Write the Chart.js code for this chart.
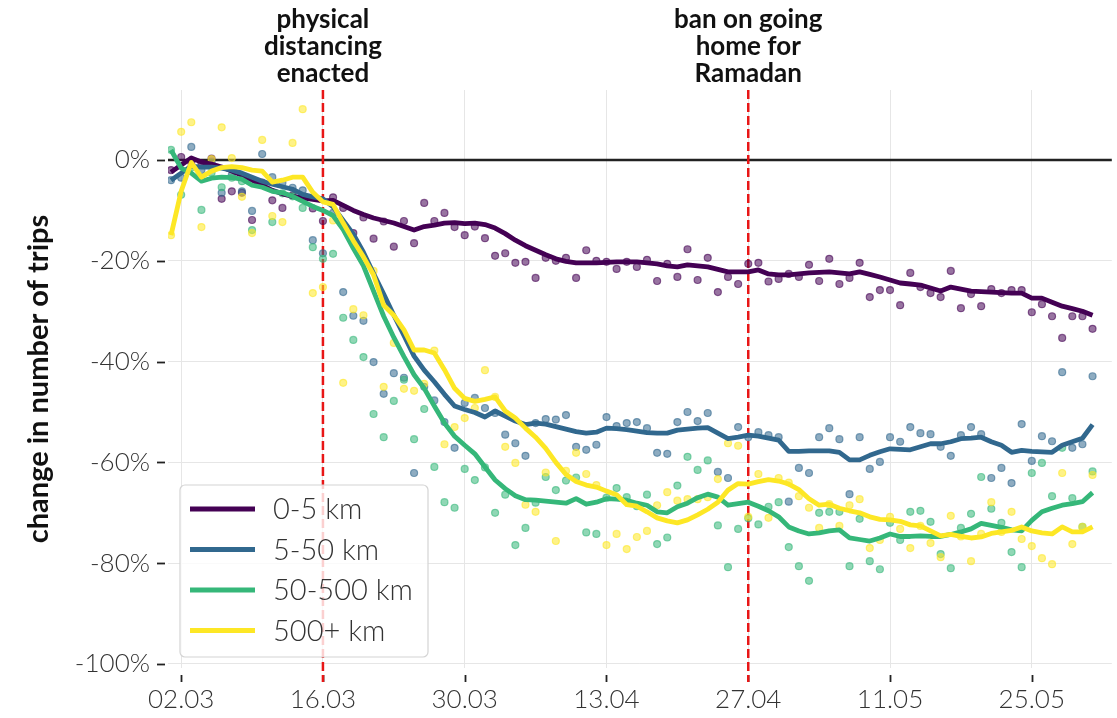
<!DOCTYPE html>
<html>
<head>
<meta charset="utf-8">
<script src="https://cdn.jsdelivr.net/npm/chart.js@4.4.1/dist/chart.umd.min.js"></script>
<style>
  html, body { margin: 0; padding: 0; background: #fff; }
  #wrap { width: 1117px; height: 718px; }
</style>
</head>
<body>
<div id="wrap"><canvas id="tripsChart" width="1117" height="718"></canvas></div>
<script>
// x = days since 01.03 (0 = 01.03, 91 = 31.05)
const tickDays = [1, 15, 29, 43, 57, 71, 85];
const tickLabels = ['02.03', '16.03', '30.03', '13.04', '27.04', '11.05', '25.05'];
const yTicks = [0, -20, -40, -60, -80, -100];
const eventDays = [15, 57];
const eventLabels = [['physical', 'distancing', 'enacted'], ['ban on going', 'home for', 'Ramadan']];
const seriesNames = ['0-5 km', '5-50 km', '50-500 km', '500+ km'];
const seriesColors = ['68, 1, 84', '49, 104, 142', '53, 183, 121', '253, 231, 37'];

// rolling mean lines (% change)
const avg05 = [-2.4, -1.0, 0.4, -0.4, -0.8, -1.4, -2.2, -3.0, -4.0, -5.0,
  -6.0, -6.7, -7.2, -7.5, -7.8, -8.1, -8.0, -9.0, -10.0, -10.8,
  -11.5, -12.0, -12.5, -13.2, -13.9, -13.2, -12.9, -12.5, -12.4, -12.6,
  -12.5, -12.8, -13.5, -14.6, -15.9, -17.0, -17.9, -18.8, -19.6, -20.1,
  -20.4, -20.4, -20.4, -20.3, -20.2, -20.2, -20.2, -20.4, -20.6, -21.0,
  -21.2, -20.8, -21.0, -21.2, -21.7, -22.2, -22.2, -22.2, -21.8, -22.6,
  -22.8, -22.8, -22.6, -22.4, -22.3, -22.2, -22.4, -22.6, -22.2, -22.7,
  -23.2, -23.8, -24.4, -24.6, -24.8, -25.4, -26.0, -25.2, -25.6, -26.0,
  -26.1, -26.2, -26.3, -26.4, -26.4, -27.4, -27.4, -28.2, -29.0, -29.5,
  -30.0, -30.8];
const avg550 = [-4.0, -2.6, -1.2, -1.4, -1.4, -1.6, -2.0, -2.6, -3.4, -4.2,
  -4.8, -5.3, -5.8, -6.8, -7.3, -7.7, -9.3, -12.0, -14.7, -18.3,
  -22.5, -26.6, -30.8, -34.8, -38.9, -41.7, -44.0, -46.5, -48.8, -49.5,
  -50.1, -51.0, -49.8, -50.8, -51.8, -52.5, -52.2, -52.4, -52.9, -53.4,
  -53.9, -54.2, -54.0, -53.2, -53.3, -53.5, -53.8, -54.1, -54.2, -54.2,
  -53.6, -53.4, -53.2, -53.1, -54.2, -55.3, -55.0, -54.6, -54.8, -55.2,
  -55.6, -57.8, -57.8, -57.7, -57.7, -57.7, -58.0, -59.5, -59.5, -58.6,
  -57.9, -57.3, -57.4, -57.5, -56.9, -56.3, -56.3, -55.9, -55.3, -55.2,
  -55.0, -55.9, -56.6, -58.0, -57.6, -57.8, -57.9, -58.0, -56.6, -55.9,
  -55.2, -52.5];
const avg50500 = [2.0, -1.6, -2.6, -4.2, -3.6, -3.4, -3.5, -3.8, -5.0, -5.4,
  -6.2, -6.5, -7.2, -8.2, -9.2, -10.0, -11.0, -13.8, -17.5, -21.0,
  -26.0, -31.0, -35.2, -39.0, -42.6, -45.3, -48.8, -52.2, -54.8, -56.6,
  -58.3, -60.9, -63.5, -65.2, -66.6, -67.4, -67.5, -67.7, -67.9, -68.1,
  -67.2, -68.3, -67.9, -67.2, -67.3, -67.5, -68.1, -68.5, -69.8, -70.0,
  -68.8, -68.1, -67.0, -66.3, -66.9, -68.5, -68.2, -67.9, -68.7, -69.6,
  -70.8, -72.8, -73.6, -74.2, -74.0, -73.6, -73.4, -75.0, -75.3, -75.6,
  -75.0, -74.2, -74.7, -74.7, -74.6, -74.7, -74.7, -74.3, -73.8, -73.2,
  -72.1, -72.5, -72.9, -73.4, -73.6, -71.5, -69.8, -69.1, -68.5, -68.2,
  -67.8, -66.0];
const avg500 = [-14.9, -6.2, -0.5, -3.4, -2.2, -1.5, -1.3, -1.5, -2.0, -2.2,
  -4.4, -4.0, -3.4, -3.4, -6.4, -8.3, -8.8, -12.5, -16.0, -19.2,
  -22.8, -28.8, -30.8, -33.7, -37.7, -37.7, -38.3, -41.6, -45.3, -47.3,
  -47.9, -47.5, -47.0, -49.8, -51.2, -53.2, -55.0, -57.2, -60.0, -62.4,
  -63.8, -64.5, -64.9, -65.7, -66.4, -68.4, -68.7, -69.8, -71.0, -71.6,
  -72.0, -71.4, -70.4, -69.3, -67.9, -65.5, -64.2, -64.3, -63.8, -63.4,
  -63.7, -64.3, -65.4, -67.2, -68.5, -68.3, -69.1, -69.6, -70.0, -70.8,
  -71.3, -71.4, -71.7, -72.4, -72.6, -73.6, -74.6, -74.3, -74.7, -75.0,
  -74.8, -74.1, -73.8, -73.5, -72.8, -73.6, -74.0, -74.2, -72.8, -73.8,
  -73.8, -72.8];

// daily values (dots)
const day05 = [-2.0, 0.6, -0.5, -0.6, 0.3, -7.7, -6.2, -6.5, -11.9, -4.5,
  -8.0, -9.5, -7.0, -7.6, -9.6, -12.1, -7.4, -9.5, -14.5, -11.4,
  -15.6, -12.2, -17.2, -12.1, -16.5, -8.5, -12.1, -10.5, -13.3, -14.9,
  -13.2, -15.5, -19.0, -18.5, -20.4, -20.2, -23.4, -19.4, -20.0, -19.4,
  -23.4, -17.9, -20.0, -20.2, -21.6, -20.2, -21.2, -19.8, -24.0, -20.6,
  -23.2, -17.7, -23.8, -19.4, -26.2, -23.2, -24.6, -20.6, -20.4, -24.1,
  -23.6, -22.6, -23.2, -20.8, -24.0, -19.6, -24.6, -23.4, -20.4, -27.2,
  -25.8, -25.8, -28.8, -22.4, -25.2, -26.4, -27.2, -22.0, -29.4, -26.6,
  -29.0, -25.6, -26.4, -25.8, -25.8, -30.2, -28.6, -31.0, -35.3, -31.0,
  -31.0, -33.5];
const day550 = [-4.0, -3.5, 2.6, -2.0, -0.5, -6.5, -3.0, -6.2, -10.1, 1.2,
  -3.4, -4.5, -5.5, -6.0, -15.9, -18.5, -10.5, -26.2, -30.9, -31.9,
  -40.1, -46.4, -42.3, -43.2, -62.1, -45.0, -47.7, -52.0, -57.1, -48.2,
  -47.2, -49.2, -50.2, -54.5, -56.2, -58.7, -52.2, -51.4, -51.5, -50.6,
  -56.9, -57.5, -56.5, -51.0, -52.8, -52.2, -52.0, -53.2, -58.1, -58.3,
  -52.0, -50.0, -51.8, -50.2, -61.9, -63.1, -53.0, -55.0, -54.0, -54.6,
  -55.0, -67.8, -61.1, -62.1, -55.0, -53.2, -55.4, -66.3, -55.0, -61.3,
  -59.9, -55.0, -55.9, -53.0, -54.2, -54.4, -56.9, -58.7, -54.6, -53.0,
  -54.4, -63.1, -61.1, -64.1, -52.4, -59.7, -54.8, -55.8, -42.1, -57.1,
  -56.4, -42.9];
const day50500 = [2.0, -6.9, -1.5, -9.9, -2.5, -5.4, -3.5, -4.2, -13.9, -4.6,
  -12.3, -6.6, -7.2, -9.5, -17.3, -19.6, -18.6, -31.3, -35.7, -39.1,
  -50.4, -55.0, -47.8, -43.6, -55.4, -49.4, -60.9, -67.9, -69.0, -61.3,
  -63.5, -61.0, -70.0, -66.4, -76.4, -73.0, -68.0, -62.9, -65.5, -63.6,
  -63.0, -73.9, -74.2, -67.0, -65.1, -66.9, -68.7, -66.4, -76.2, -74.9,
  -64.6, -58.9, -61.5, -59.6, -72.5, -80.8, -73.2, -71.1, -72.3, -68.8,
  -67.9, -76.8, -80.6, -83.5, -70.0, -69.8, -69.8, -80.6, -71.2, -79.6,
  -81.2, -72.0, -75.4, -69.8, -69.6, -71.8, -78.2, -81.0, -73.0, -70.2,
  -62.9, -69.2, -72.0, -77.8, -80.8, -62.1, -60.1, -66.7, -57.1, -67.1,
  -72.8, -61.8];
const day500 = [-14.9, 5.6, 7.5, -13.3, 0.2, 6.5, 0.4, -7.3, -14.5, 4.0,
  -11.1, -12.3, 3.4, 10.1, -26.4, -25.2, -12.0, -44.2, -29.6, -30.8,
  -22.0, -45.0, -36.3, -45.4, -45.8, -44.4, -37.8, -56.4, -53.0, -51.2,
  -49.2, -41.7, -47.0, -56.9, -60.1, -68.4, -69.8, -62.0, -75.6, -61.7,
  -58.1, -62.3, -64.5, -76.4, -74.2, -77.2, -74.8, -73.6, -68.5, -65.9,
  -67.6, -67.3, -67.3, -66.9, -63.3, -56.2, -56.7, -70.8, -62.3, -71.0,
  -63.1, -64.0, -66.7, -69.0, -73.0, -68.3, -72.6, -68.5, -67.3, -77.0,
  -75.4, -70.8, -73.2, -77.0, -72.6, -76.0, -78.8, -70.6, -74.7, -79.6,
  -74.2, -67.9, -73.8, -69.8, -75.2, -76.6, -79.0, -80.2, -62.1, -76.2,
  -72.8, -62.5];

const avgs = [avg05, avg550, avg50500, avg500];
const dailies = [day05, day550, day50500, day500];

function toPoints(arr) {
    return arr.map((v, i) => ({ x: i, y: v }));
}

// garis rata-rata (di atas titik)
const lineSets = seriesNames.map((name, k) => ({
    type: 'line',
    label: name,
    data: toPoints(avgs[k]),
    borderColor: 'rgb(' + seriesColors[k] + ')',
    borderWidth: 4.8,
    borderJoinStyle: 'round',
    pointRadius: 0,
    tension: 0,
    order: 3 - k
}));

// titik harian
const dotSets = seriesNames.map((name, k) => ({
    type: 'scatter',
    label: name + ' (daily)',
    data: toPoints(dailies[k]),
    backgroundColor: 'rgba(' + seriesColors[k] + ', 0.55)',
    borderColor: 'rgba(' + seriesColors[k] + ', 0.6)',
    borderWidth: 1.2,
    pointRadius: 3.5,
    order: 10 - k
}));

const decorations = {
    id: 'decorations',
    beforeDatasetsDraw(chart) {
        const { ctx, chartArea, scales: { x, y } } = chart;
        ctx.save();
        // tick marks, offset from the plot
        ctx.strokeStyle = '#222';
        ctx.lineWidth = 1.8;
        tickDays.forEach(d => {
            const px = Math.round(x.getPixelForValue(d)) + 0.5;
            ctx.beginPath();
            ctx.moveTo(px, chartArea.bottom + 7);
            ctx.lineTo(px, chartArea.bottom + 14);
            ctx.stroke();
        });
        yTicks.forEach(v => {
            const py = Math.round(y.getPixelForValue(v)) + 0.5;
            ctx.beginPath();
            ctx.moveTo(chartArea.left - 11, py);
            ctx.lineTo(chartArea.left - 3, py);
            ctx.stroke();
        });
        // zero line
        const y0 = y.getPixelForValue(0);
        ctx.strokeStyle = '#222';
        ctx.lineWidth = 2.4;
        ctx.beginPath();
        ctx.moveTo(chartArea.left, y0);
        ctx.lineTo(chartArea.right, y0);
        ctx.stroke();
        // event lines
        ctx.strokeStyle = 'rgb(232, 22, 22)';
        ctx.lineWidth = 2.5;
        ctx.setLineDash([9, 4]);
        eventDays.forEach(d => {
            const px = x.getPixelForValue(d);
            ctx.beginPath();
            ctx.moveTo(px, chartArea.top);
            ctx.lineTo(px, chartArea.bottom + 14);
            ctx.stroke();
        });
        ctx.restore();
    },
    afterDraw(chart) {
        const { ctx, chartArea, scales: { x } } = chart;
        ctx.save();
        // event annotations
        ctx.fillStyle = '#111';
        ctx.font = 'bold 26px Lato';
        ctx.textAlign = 'center';
        ctx.textBaseline = 'middle';
        eventDays.forEach((d, i) => {
            const px = x.getPixelForValue(d);
            eventLabels[i].forEach((txt, j) => {
                ctx.fillText(txt, px, 20 + j * 27);
            });
        });
        // legend box
        const bx = chartArea.left + 12, by = chartArea.bottom - 183, bw = 248, bh = 172;
        ctx.fillStyle = 'rgba(255, 255, 255, 0.8)';
        ctx.strokeStyle = '#d4d4d4';
        ctx.lineWidth = 1.2;
        ctx.beginPath();
        ctx.roundRect(bx, by, bw, bh, 5);
        ctx.fill();
        ctx.stroke();
        ctx.font = '300 29px Lato';
        ctx.textAlign = 'left';
        seriesNames.forEach((name, k) => {
            const ly = by + 24 + k * 40.5;
            ctx.strokeStyle = 'rgb(' + seriesColors[k] + ')';
            ctx.lineWidth = 4.8;
            ctx.beginPath();
            ctx.moveTo(bx + 10, ly);
            ctx.lineTo(bx + 75, ly);
            ctx.stroke();
            ctx.fillStyle = '#333';
            ctx.fillText(name, bx + 93, ly + 1);
        });
        ctx.restore();
    }
};

const ctx = document.getElementById('tripsChart').getContext('2d');
const tripsChart = new Chart(ctx, {
    data: {
        datasets: lineSets.concat(dotSets)
    },
    options: {
        responsive: false,
        animation: false,
        devicePixelRatio: 1,
        layout: { padding: { top: 90, right: 0, bottom: 0, left: 0 } },
        plugins: {
            legend: { display: false },
            tooltip: { enabled: false }
        },
        scales: {
            x: {
                type: 'linear',
                min: -0.3,
                max: 92.9,
                afterBuildTicks: s => { s.ticks = tickDays.map(v => ({ value: v })); },
                afterFit: s => { s.height = 50; },
                grid: { color: '#e6e6e6', lineWidth: 1, drawTicks: false },
                border: { display: false },
                ticks: {
                    padding: 16,
                    color: '#333',
                    maxRotation: 0,
                    autoSkip: false,
                    font: { family: 'Lato', size: 26, weight: 300 },
                    callback: v => tickLabels[tickDays.indexOf(v)]
                }
            },
            y: {
                type: 'linear',
                min: -100.8,
                max: 13.9,
                afterBuildTicks: s => { s.ticks = yTicks.map(v => ({ value: v })); },
                afterFit: s => { s.width = 168; },
                grid: { color: '#e6e6e6', lineWidth: 1, drawTicks: false },
                border: { display: false },
                ticks: {
                    padding: 18,
                    color: '#333',
                    font: { family: 'Lato', size: 26, weight: 300 },
                    callback: v => v + '%'
                },
                title: {
                    display: true,
                    text: 'change in number of trips',
                    color: '#111',
                    font: { family: 'Lato', size: 29, weight: 'bold' },
                    padding: { top: 21, bottom: 0 }
                }
            }
        }
    },
    plugins: [decorations]
});
</script>
</body>
</html>
